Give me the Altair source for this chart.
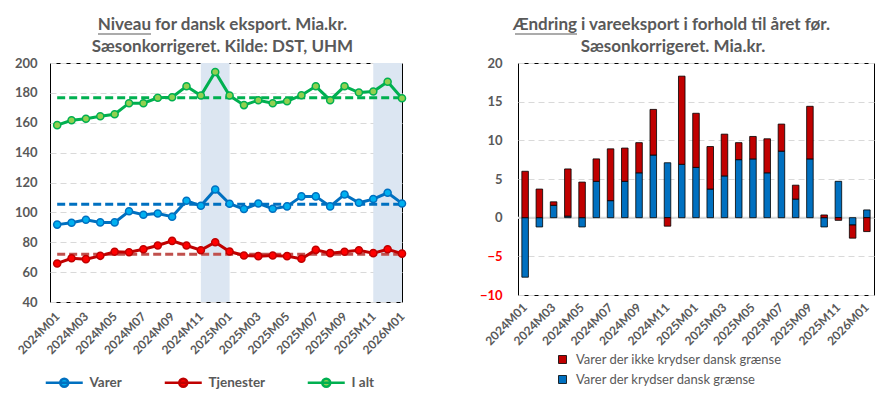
import altair as alt
import pandas as pd

# ---------------- data ----------------
months = ["2024M01", "2024M02", "2024M03", "2024M04", "2024M05", "2024M06", "2024M07",
          "2024M08", "2024M09", "2024M10", "2024M11", "2024M12", "2025M01", "2025M02",
          "2025M03", "2025M04", "2025M05", "2025M06", "2025M07", "2025M08", "2025M09",
          "2025M10", "2025M11", "2025M12", "2026M01"]
x_tick_labels = ["2024M01", "2024M03", "2024M05", "2024M07", "2024M09", "2024M11", "2025M01",
                 "2025M03", "2025M05", "2025M07", "2025M09", "2025M11", "2026M01"]

varer = [91.8, 93.1, 95.1, 93.3, 93.3, 100.7, 98.4, 99.3, 97.1, 107.8, 104.4, 115.3, 105.8,
         102.2, 106.0, 102.4, 104.0, 110.7, 110.7, 104.0, 112.0, 106.4, 108.9, 113.1, 106.0]
tjenester = [65.8, 69.3, 68.7, 70.9, 73.6, 73.3, 75.3, 77.8, 80.9, 77.8, 74.7, 80.0, 73.8,
             71.1, 70.7, 71.1, 70.7, 68.9, 74.9, 72.7, 73.6, 74.7, 72.7, 75.3, 72.4]
i_alt = [158.4, 161.7, 162.7, 164.4, 165.7, 173.1, 173.1, 176.7, 177.1, 184.4, 178.2, 194.0,
         178.2, 171.8, 175.1, 173.1, 174.4, 178.4, 184.4, 175.1, 184.4, 180.2, 180.9, 187.5, 176.4]
series_names = ["Varer", "Tjenester", "I alt"]
series_means = [105.5, 72.0, 176.7]
highlight_start = ["2024M11", "2025M11"]
highlight_end = ["2025M01", "2026M01"]

krydser = [-7.7, -1.2, 1.6, 0.2, -1.2, 4.7, 2.2, 4.7, 5.8, 8.1, 7.1, 6.9, 6.5, 3.7, 5.4,
           7.5, 7.6, 5.8, 8.6, 2.4, 7.6, -1.2, 4.7, -0.95, 1.0]
ikke_krydser = [6.0, 3.7, 0.45, 6.1, 4.6, 2.9, 6.7, 4.3, 3.9, 5.9, -1.1, 11.4, 7.0, 5.5, 5.4,
                2.2, 2.9, 4.4, 3.5, 1.8, 6.8, 0.35, -0.35, -1.7, -1.8]
bar_series = ["Varer der ikke krydser dansk grænse", "Varer der krydser dansk grænse"]
zero_line = [0]

left_title = ["Niveau", "for dansk eksport. Mia.kr.", "Sæsonkorrigeret. Kilde: DST, UHM"]
right_title = ["Ændring", "i vareeksport i forhold til året før.", "Sæsonkorrigeret. Mia.kr."]

# ---------------- styles ----------------
FONT = "Lato"
GREY = "#595959"
TFS = 17
line_colors = ["#0070C0", "#C00000", "#00B050"]
marker_colors = ["#00B0F0", "#FF0000", "#92D050"]
mean_colors = ["#0070C0", "#C0504D", "#00B050"]
bar_colors = ["#C00000", "#0070C0"]

WL, HL = 352, 239
WR, HR = 356, 232

# ---------------- left chart ----------------
long_df = pd.DataFrame({
    "month": months * 3,
    "series": ["Varer"] * len(months) + ["Tjenester"] * len(months) + ["I alt"] * len(months),
    "value": varer + tjenester + i_alt,
})
means_df = pd.DataFrame({"series": series_names, "mean": series_means,
                         "start": [months[0]] * 3, "end": [months[-1]] * 3})
bands_df = pd.DataFrame({"start": highlight_start, "end": highlight_end})

x_scale_L = alt.Scale(type="point", domain=months, padding=0.25, align=1)
x_axis = alt.Axis(values=x_tick_labels, labelAngle=-45, labelAlign="right", labelBaseline="middle",
                  labelPadding=12, title=None, grid=False, labelFontSize=12)
y_scale_L = alt.Scale(domain=[40, 200], nice=False, zero=False)
y_axis_L = alt.Axis(values=list(range(40, 201, 20)), title=None, labelPadding=13, labelFontSize=13)

stroke_scale = alt.Scale(domain=series_names, range=line_colors)
fill_scale = alt.Scale(domain=series_names, range=marker_colors)
legend_path = "M-3.7,0L3.7,0M0.8,0A0.8,0.8,0,1,1,-0.8,0A0.8,0.8,0,1,1,0.8,0"
legend_L = alt.Legend(title=None, orient="none", legendX=7.5, legendY=313, direction="horizontal",
                      symbolType=legend_path, symbolSize=100, symbolStrokeWidth=2.5,
                      labelOffset=18.5, columnPadding=37, gridAlign="none",
                      labelFontSize=13.5, labelFontWeight="bold",
                      labelColor=GREY, labelFont=FONT, padding=0)

bands = alt.Chart(bands_df).mark_rect(color="#DCE6F2").encode(
    x=alt.X("start:O", scale=x_scale_L, axis=x_axis), x2="end:O",
    y=alt.value(0), y2=alt.value(HL))

mean_rules = alt.Chart(means_df).mark_rule(strokeDash=[8, 4], strokeWidth=3).encode(
    x=alt.X("start:O", scale=x_scale_L, axis=x_axis), x2="end:O",
    y=alt.Y("mean:Q", scale=y_scale_L, axis=y_axis_L),
    color=alt.Color("series:N", scale=alt.Scale(domain=series_names, range=mean_colors), legend=None))

lines = alt.Chart(long_df).mark_line(strokeWidth=3).encode(
    x=alt.X("month:O", scale=x_scale_L, axis=x_axis),
    y=alt.Y("value:Q", scale=y_scale_L, axis=y_axis_L),
    stroke=alt.Stroke("series:N", scale=stroke_scale, legend=legend_L),
    detail="series:N")

points = alt.Chart(long_df).mark_point(filled=True, shape="circle", size=50, strokeWidth=1.5, opacity=1).encode(
    x=alt.X("month:O", scale=x_scale_L, axis=x_axis),
    y=alt.Y("value:Q", scale=y_scale_L, axis=y_axis_L),
    stroke=alt.Stroke("series:N", scale=stroke_scale, legend=legend_L),
    fill=alt.Fill("series:N", scale=fill_scale, legend=legend_L))

title_df_L = pd.DataFrame({"t": [left_title[0]]})
tL1a = alt.Chart(title_df_L).mark_text(align="right", baseline="middle", font=FONT, fontSize=TFS,
                                       fontWeight="bold", color=GREY, text=left_title[0]).encode(
    x=alt.value(101), y=alt.value(-38))
tL1b = alt.Chart(title_df_L).mark_text(align="left", baseline="middle", font=FONT, fontSize=TFS,
                                       fontWeight="bold", color=GREY, text=left_title[1]).encode(
    x=alt.value(105), y=alt.value(-38))
tL2 = alt.Chart(title_df_L).mark_text(align="center", baseline="middle", font=FONT, fontSize=TFS,
                                      fontWeight="bold", color=GREY, text=left_title[2]).encode(
    x=alt.value(172.5), y=alt.value(-16))
uL = alt.Chart(title_df_L).mark_rule(color=GREY, strokeWidth=1.2).encode(
    x=alt.value(48), x2=alt.value(101), y=alt.value(-29), y2=alt.value(-29))

left = alt.layer(bands, mean_rules, lines, points, tL1a, tL1b, tL2, uL).resolve_scale(
    color="independent").properties(width=WL, height=HL)

# ---------------- right chart ----------------
bars_df = pd.DataFrame({
    "month": months * 2,
    "type": [bar_series[1]] * len(months) + [bar_series[0]] * len(months),
    "ord": [0] * len(months) + [1] * len(months),
    "value": krydser + ikke_krydser,
})
x_scale_R = alt.Scale(type="band", domain=months, paddingInner=0.54, paddingOuter=0.27)
x_axis_R = alt.Axis(values=x_tick_labels, labelAngle=-45, labelAlign="right", labelBaseline="middle",
                    labelPadding=10, title=None, grid=False, labelFontSize=12)
y_scale_R = alt.Scale(domain=[-10, 20], nice=False)
y_axis_R = alt.Axis(values=list(range(-10, 21, 5)), title=None, labelPadding=16, labelFontSize=13,
                    labelColor={"condition": {"test": "datum.value < 0", "value": "#FF0000"}, "value": GREY})
# legends of concatenated panels are placed relative to the left panel's plot origin
legend_R = alt.Legend(title=None, orient="none", legendX=506, legendY=290, direction="vertical",
                      symbolType="square", symbolSize=64, symbolStrokeColor="black", symbolStrokeWidth=0.8,
                      labelOffset=7, rowPadding=6, labelFontSize=13, labelFontWeight="normal",
                      labelLimit=0, labelColor=GREY, labelFont=FONT, padding=0)

zero_rule = alt.Chart(pd.DataFrame({"zero": zero_line})).mark_rule(color="#D9D9D9", strokeWidth=2).encode(
    y=alt.Y("zero:Q", scale=y_scale_R, axis=y_axis_R))

bars = alt.Chart(bars_df).mark_bar(stroke="black", strokeWidth=0.8).encode(
    x=alt.X("month:O", scale=x_scale_R, axis=x_axis_R),
    y=alt.Y("value:Q", scale=y_scale_R, axis=y_axis_R, stack="zero"),
    color=alt.Color("type:N", scale=alt.Scale(domain=bar_series, range=bar_colors), legend=legend_R),
    order=alt.Order("ord:Q", sort="ascending"))

title_df_R = pd.DataFrame({"t": [right_title[0]]})
tR1a = alt.Chart(title_df_R).mark_text(align="right", baseline="middle", font=FONT, fontSize=TFS,
                                       fontWeight="bold", color=GREY, text=right_title[0]).encode(
    x=alt.value(59), y=alt.value(-38))
tR1b = alt.Chart(title_df_R).mark_text(align="left", baseline="middle", font=FONT, fontSize=TFS,
                                       fontWeight="bold", color=GREY, text=right_title[1]).encode(
    x=alt.value(63), y=alt.value(-38))
tR2 = alt.Chart(title_df_R).mark_text(align="center", baseline="middle", font=FONT, fontSize=TFS,
                                      fontWeight="bold", color=GREY, text=right_title[2]).encode(
    x=alt.value(155), y=alt.value(-16))
uR = alt.Chart(title_df_R).mark_rule(color=GREY, strokeWidth=1.2).encode(
    x=alt.value(-3), x2=alt.value(59), y=alt.value(-29), y2=alt.value(-29))

right = alt.layer(zero_rule, bars, tR1a, tR1b, tR2, uR).properties(width=WR, height=HR)

chart = alt.hconcat(left, right, spacing=68).properties(
    padding={"left": 5, "top": 7, "right": 0, "bottom": 0}
).configure_view(stroke="black", strokeWidth=1).configure_axis(
    domain=False, ticks=False, labelFont=FONT, labelFontWeight="bold", labelColor=GREY,
    gridColor="#D9D9D9", gridDash=[6, 4], gridWidth=1
)

chart.save("out.html", embed_options={"renderer": "svg", "actions": False})
